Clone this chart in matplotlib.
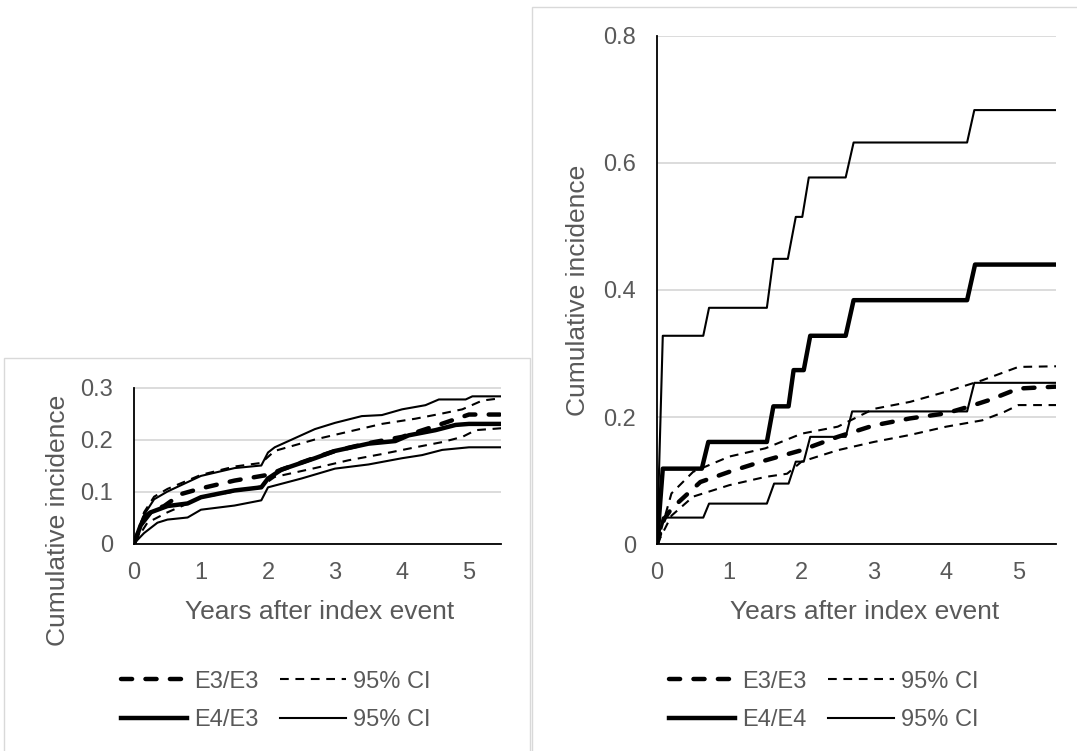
import numpy as np
import matplotlib
matplotlib.use('Agg')
import matplotlib.pyplot as plt
from matplotlib.lines import Line2D
from matplotlib.patches import Rectangle

plt.rcParams['font.family'] = ['Liberation Sans', 'DejaVu Sans']

# ---- left panel: E3/E3 vs E4/E3 ----
l_e3_t = [0, 0.15, 0.3, 0.45, 0.7, 1.0, 1.5, 2.0, 2.2, 2.7, 3.0, 3.5, 4.0, 4.5, 5.0, 5.52]
l_e3 = [0, 0.05, 0.065, 0.072, 0.095, 0.106, 0.121, 0.132, 0.142, 0.165, 0.178, 0.193, 0.205, 0.226, 0.248, 0.248]
l_e3_hi_t = [0, 0.15, 0.3, 0.5, 1.0, 1.5, 1.9, 2.1, 2.7, 3.2, 3.7, 4.2, 4.6, 4.9, 5.2, 5.52]
l_e3_hi = [0, 0.06, 0.09, 0.105, 0.132, 0.148, 0.155, 0.178, 0.200, 0.215, 0.230, 0.240, 0.250, 0.258, 0.275, 0.280]
l_e3_lo_t = [0, 0.2, 0.5, 1.0, 1.5, 1.9, 2.1, 2.7, 3.2, 3.7, 4.2, 4.6, 4.9, 5.1, 5.52]
l_e3_lo = [0, 0.04, 0.06, 0.088, 0.100, 0.110, 0.128, 0.145, 0.160, 0.172, 0.185, 0.195, 0.205, 0.218, 0.222]

l_e4_t = [0, 0.1, 0.25, 0.5, 0.8, 1.0, 1.5, 1.9, 2.0, 2.2, 2.7, 3.0, 3.5, 3.9, 4.1, 4.5, 4.8, 5.0, 5.52]
l_e4 = [0, 0.035, 0.06, 0.072, 0.077, 0.089, 0.102, 0.108, 0.125, 0.142, 0.164, 0.178, 0.192, 0.197, 0.208, 0.218, 0.228, 0.230, 0.230]
l_e4_hi_t = [0, 0.15, 0.3, 0.5, 1.0, 1.5, 1.9, 2.0, 2.1, 2.7, 3.0, 3.4, 3.7, 4.0, 4.35, 4.55, 4.95, 5.05, 5.52]
l_e4_hi = [0, 0.055, 0.085, 0.10, 0.13, 0.145, 0.15, 0.175, 0.185, 0.22, 0.232, 0.245, 0.247, 0.258, 0.266, 0.277, 0.277, 0.283, 0.283]
l_e4_lo_t = [0, 0.15, 0.35, 0.5, 0.8, 1.0, 1.5, 1.9, 2.0, 2.5, 3.0, 3.5, 4.0, 4.3, 4.6, 5.0, 5.52]
l_e4_lo = [0, 0.02, 0.04, 0.046, 0.05, 0.065, 0.073, 0.083, 0.108, 0.125, 0.144, 0.152, 0.164, 0.17, 0.18, 0.185, 0.185]

# ---- right panel: E3/E3 vs E4/E4 ----
r_e3_t = [0, 0.1, 0.2, 0.6, 1.0, 1.5, 2.0, 2.5, 3.0, 3.5, 4.0, 4.3, 4.6, 5.0, 5.52]
r_e3 = [0, 0.04, 0.056, 0.098, 0.114, 0.132, 0.148, 0.169, 0.187, 0.198, 0.206, 0.216, 0.227, 0.245, 0.248]
r_e3_hi_t = [0, 0.2, 0.5, 1.0, 1.5, 2.0, 2.5, 3.0, 3.5, 4.0, 4.5, 5.0, 5.52]
r_e3_hi = [0, 0.08, 0.114, 0.138, 0.151, 0.174, 0.185, 0.213, 0.224, 0.24, 0.258, 0.279, 0.28]
r_e3_lo_t = [0, 0.2, 0.5, 1.0, 1.5, 1.8, 2.0, 2.5, 3.0, 3.5, 4.0, 4.5, 4.8, 5.0, 5.52]
r_e3_lo = [0, 0.045, 0.075, 0.093, 0.106, 0.111, 0.13, 0.148, 0.161, 0.172, 0.185, 0.195, 0.208, 0.219, 0.219]

r_e4_t = [0, 0.08, 0.62, 0.71, 1.52, 1.61, 1.82, 1.89, 2.03, 2.12, 2.61, 2.72, 4.29, 4.4, 5.52]
r_e4 = [0, 0.119, 0.119, 0.161, 0.161, 0.217, 0.217, 0.274, 0.274, 0.328, 0.328, 0.384, 0.384, 0.44, 0.44]
r_e4_hi_t = [0, 0.08, 0.64, 0.72, 1.52, 1.61, 1.81, 1.92, 2.01, 2.10, 2.61, 2.72, 4.29, 4.39, 5.52]
r_e4_hi = [0, 0.328, 0.328, 0.372, 0.372, 0.449, 0.449, 0.515, 0.515, 0.577, 0.577, 0.632, 0.632, 0.683, 0.683]
r_e4_lo_t = [0, 0.08, 0.64, 0.72, 1.52, 1.62, 1.82, 1.92, 2.03, 2.12, 2.61, 2.7, 4.29, 4.39, 5.52]
r_e4_lo = [0, 0.042, 0.042, 0.064, 0.064, 0.0955, 0.0955, 0.13, 0.13, 0.169, 0.169, 0.209, 0.209, 0.254, 0.254]

grey = '#595959'
W, H = 1077, 751

main_dash = dict(color='black', lw=3.2, linestyle=(0, (2.5, 3)), dash_capstyle='round')
main_solid = dict(color='black', lw=3.2, solid_joinstyle='round')
ci_dash = dict(color='black', lw=1.5, linestyle=(0, (4.2, 3.2)))
ci_solid = dict(color='black', lw=1.5, solid_joinstyle='round')

fig = plt.figure(figsize=(W / 100, H / 100), dpi=100)

# panel frames
fig.add_artist(Rectangle((4 / W, -0.01), 526 / W, 1 - 358 / H + 0.01, transform=fig.transFigure,
                         fill=False, edgecolor='#d9d9d9', lw=1))
fig.add_artist(Rectangle((532 / W, -0.01), 1, 1 - 7 / H + 0.01, transform=fig.transFigure,
                         fill=False, edgecolor='#d9d9d9', lw=1))

ax1 = fig.add_axes([134 / W, 1 - 543.5 / H, 366.5 / W, 156 / H])
ax2 = fig.add_axes([657 / W, 1 - 544.3 / H, 399 / W, 508.6 / H])


def style(ax, xmax, ymax, yticks, ylabels):
    ax.set_xlim(0, xmax)
    ax.set_ylim(0, ymax)
    ax.set_yticks(yticks)
    ax.set_yticklabels(ylabels)
    ax.set_xticks(range(6))
    ax.grid(axis='y', color='#d9d9d9', lw=1.3)
    ax.set_axisbelow(True)
    for s in ['top', 'right']:
        ax.spines[s].set_visible(False)
    for s in ['left', 'bottom']:
        ax.spines[s].set_color('black')
        ax.spines[s].set_linewidth(1.3)
    ax.tick_params(axis='y', length=0, labelsize=17, labelcolor=grey, pad=15)
    ax.tick_params(axis='x', length=0, labelsize=17, labelcolor=grey, pad=13)


style(ax1, 5.47, 0.3, [0, 0.1, 0.2, 0.3], ['0', '0.1', '0.2', '0.3'])
style(ax2, 5.52, 0.8, [0, 0.2, 0.4, 0.6, 0.8], ['0', '0.2', '0.4', '0.6', '0.8'])

ax1.plot(l_e4_lo_t, l_e4_lo, **ci_solid)
ax1.plot(l_e4_hi_t, l_e4_hi, **ci_solid)
ax1.plot(l_e3_lo_t, l_e3_lo, **ci_dash)
ax1.plot(l_e3_hi_t, l_e3_hi, **ci_dash)
ax1.plot(l_e4_t, l_e4, **main_solid)
ax1.plot(l_e3_t, l_e3, **main_dash)

ax2.plot(r_e4_lo_t, r_e4_lo, **ci_solid)
ax2.plot(r_e4_hi_t, r_e4_hi, **ci_solid)
ax2.plot(r_e3_lo_t, r_e3_lo, **ci_dash)
ax2.plot(r_e3_hi_t, r_e3_hi, **ci_dash)
ax2.plot(r_e4_t, r_e4, **main_solid)
ax2.plot(r_e3_t, r_e3, **main_dash)

# axis titles
fig.text(320 / W, 1 - 612 / H, 'Years after index event', ha='center', va='center', fontsize=19, color=grey)
fig.text(865 / W, 1 - 612 / H, 'Years after index event', ha='center', va='center', fontsize=19, color=grey)
fig.text(58 / W, 1 - 520 / H, 'Cumulative incidence', ha='center', va='center', rotation=90, fontsize=19, color=grey)
fig.text(578 / W, 1 - 290 / H, 'Cumulative incidence', ha='center', va='center', rotation=90, fontsize=19, color=grey)

# legends
def legend(x, label2):
    handles = [Line2D([], [], **main_dash), Line2D([], [], **main_solid),
               Line2D([], [], **ci_dash), Line2D([], [], **ci_solid)]
    labels = ['E3/E3', label2, '95% CI', '95% CI']
    fig.legend(handles, labels, ncol=2, loc='center', bbox_to_anchor=(x / W, 1 - 701 / H),
               frameon=False, fontsize=17, labelcolor=grey, handlelength=2.8,
               handletextpad=0.3, columnspacing=0.9, labelspacing=0.7)


legend(276, 'E4/E3')
legend(824, 'E4/E4')

fig.savefig('out.png', dpi=100)
